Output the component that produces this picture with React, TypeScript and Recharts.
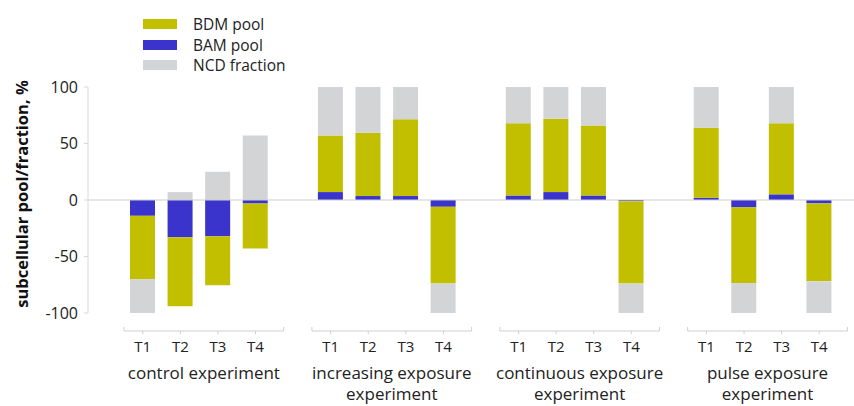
import React from 'react';
import { BarChart, Bar, XAxis, YAxis, ReferenceLine } from 'recharts';

const groupLines: string[][] = [
  ['control experiment'],
  ['increasing exposure', 'experiment'],
  ['continuous exposure', 'experiment'],
  ['pulse exposure', 'experiment'],
];
const timepoints = ['T1', 'T2', 'T3', 'T4'];

// values per bar, group by group (T1..T4)
const bdmPool = [-56, -61, -43.5, -40, 50, 56, 68, -68, 64, 65, 62, -73, 62, -67, 63, -69];
const bamPool = [-14, -33, -32, -3, 7, 3.5, 3.5, -6, 4, 7, 4, -1, 2, -6.5, 5, -3];
const ncdFraction = [-30, 7, 25, 57, 43, 40.5, 28.5, -26, 32, 28, 34, -26, 36, -26.5, 32, -28];
const yTicks = [-100, -50, 0, 50, 100];

const series = [
  { key: 'BDM', name: 'BDM pool', color: '#c2bf00' },
  { key: 'BAM', name: 'BAM pool', color: '#3b34cc' },
  { key: 'NCD', name: 'NCD fraction', color: '#d3d4d6' },
];
const colorOf = (k: string) => series.find((s) => s.key === k)!.color;

type Row = { key: string; gap?: boolean; t?: string; ti?: number; gi?: number; BDM?: number; BAM?: number; NCD?: number };
const data: Row[] = [];
groupLines.forEach((_, gi) => {
  if (gi > 0) data.push({ key: `gap${gi}`, gap: true });
  timepoints.forEach((t, ti) => {
    const i = gi * timepoints.length + ti;
    data.push({ key: `${gi}-${t}`, t, ti, gi, BDM: bdmPool[i], BAM: bamPool[i], NCD: ncdFraction[i] });
  });
});

const FONT = '"Open Sans", sans-serif';
const AXIS_GRAY = '#cfcfcf';

const GroupTick = (props: any) => {
  const { x, y, payload } = props;
  const row = data.find((d) => d.key === payload?.value);
  if (!row || row.gap) return null;
  const step = payload && payload.offset ? payload.offset * 2 : 37.6;
  const by = y + 18;
  const els: React.ReactNode[] = [];
  if (row.ti === 0) {
    const left = x - 0.5 * step;
    const right = x + 3.75 * step;
    els.push(<line key="b" x1={left} x2={right} y1={by} y2={by} stroke={AXIS_GRAY} strokeWidth={1} />);
    els.push(<line key="l" x1={left} x2={left} y1={by - 4} y2={by} stroke={AXIS_GRAY} strokeWidth={1} />);
    els.push(<line key="r" x1={right} x2={right} y1={by - 4} y2={by} stroke={AXIS_GRAY} strokeWidth={1} />);
    const cx = (left + right) / 2;
    groupLines[row.gi!].forEach((ln, li) => {
      els.push(
        <text key={`g${li}`} x={cx} y={y + 66 + li * 21} textAnchor="middle" fontFamily={FONT} fontSize={17} fill="#222">
          {ln}
        </text>
      );
    });
  }
  els.push(<line key="d" x1={x} x2={x} y1={by} y2={by + 3} stroke={AXIS_GRAY} strokeWidth={1} />);
  els.push(
    <text key="t" x={x} y={y + 39} textAnchor="middle" fontFamily={FONT} fontSize={15} fill="#222">
      {row.t}
    </text>
  );
  return <g>{els}</g>;
};

const YLabel = (props: any) => {
  const vb = props.viewBox || { x: 0, y: 87, width: 88, height: 226 };
  const x = 21;
  const y = vb.y + vb.height / 2 - 6;
  return (
    <text x={x} y={y} transform={`rotate(-90 ${x} ${y})`} textAnchor="middle" dominantBaseline="central" fontFamily={FONT} fontWeight={700} fontSize={16.5} fill="#111">
      subcellular pool/fraction, %
    </text>
  );
};

export default function App() {
  return (
    <div style={{ position: 'absolute', left: 0, top: 0, width: 854, height: 406, background: '#fff' }}>
      <BarChart
        width={854}
        height={406}
        data={data}
        stackOffset="sign"
        margin={{ top: 87, right: 0, bottom: 0, left: 0 }}
        style={{ fontFamily: FONT }}
      >
        <YAxis
          type="number"
          domain={[-100, 100]}
          ticks={yTicks}
          interval={0}
          width={88}
          axisLine={{ stroke: '#d9d9d9' }}
          tickLine={{ stroke: '#d9d9d9' }}
          tickSize={4}
          tickMargin={6}
          tick={{ fill: '#222', fontSize: 16, fontFamily: FONT }}
          label={<YLabel />}
        />
        <XAxis
          dataKey="key"
          type="category"
          interval={0}
          axisLine={false}
          tickLine={false}
          tickSize={0}
          tickMargin={0}
          height={93}
          padding={{ left: 36, right: 16 }}
          tick={<GroupTick />}
        />
        <ReferenceLine y={0} stroke="#cdcdcd" strokeWidth={1} />
        {['BAM', 'BDM', 'NCD'].map((k) => (
          <Bar key={k} dataKey={k} stackId="s" fill={colorOf(k)} barSize={25} isAnimationActive={false} />
        ))}
      </BarChart>
      <div style={{ position: 'absolute', left: 143, top: 14, fontFamily: FONT, fontSize: 15.5, color: '#222' }}>
        {series.map((s) => (
          <div key={s.key} style={{ display: 'flex', alignItems: 'center', height: 20.5 }}>
            <div style={{ width: 34, height: 10, background: s.color, marginRight: 16 }} />
            <span style={{ lineHeight: '20px' }}>{s.name}</span>
          </div>
        ))}
      </div>
    </div>
  );
}
